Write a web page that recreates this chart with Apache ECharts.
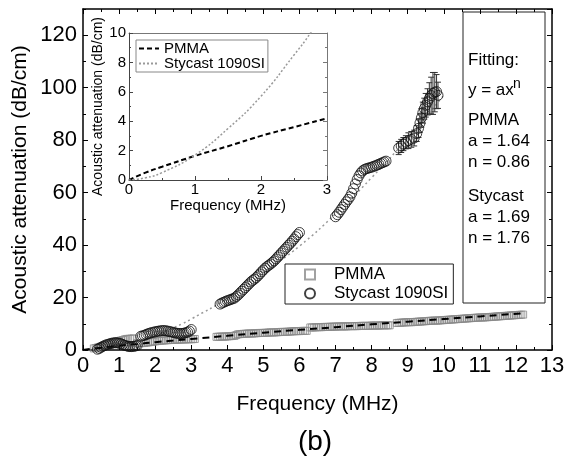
<!DOCTYPE html>
<html>
<head>
<meta charset="utf-8">
<script src="https://cdn.jsdelivr.net/npm/echarts@6/dist/echarts.min.js"></script>
<style>
html,body{margin:0;padding:0;background:#fff}
#main{width:573px;height:475px}
</style>
</head>
<body>
<div id="main"></div>
<script>
// Stycast 1090SI 实测点 [频率 MHz, 衰减 dB/cm], 按测量段分组
var stycastSeg1 = [[0.4,0.3],[0.45,0.6],[0.5,1.0],[0.55,1.4],[0.6,1.7],[0.65,2.0],[0.7,2.2],[0.75,2.4],
  [0.8,2.6],[0.85,2.7],[0.9,2.8],[0.95,2.7],[1.0,2.6],[1.05,2.4],[1.1,2.1],[1.15,1.8],[1.2,1.6],
  [1.25,1.4],[1.3,1.3],[1.35,1.3],[1.4,1.4],[1.45,1.5],[1.5,1.7]];
var stycastSeg2 = [[1.6,5.2],[1.65,5.4],[1.7,5.6],[1.75,5.9],[1.8,6.2],[1.85,6.4],[1.9,6.6],[1.95,6.8],
  [2.0,6.9],[2.05,7.1],[2.1,7.2],[2.15,7.3],[2.2,7.4],[2.25,7.4],[2.3,7.3],[2.35,7.2],[2.4,7.0],
  [2.45,6.9],[2.5,6.7],[2.55,6.5],[2.6,6.4],[2.65,6.3],[2.7,6.3],[2.75,6.3],[2.8,6.4],[2.85,6.6],
  [2.9,6.8],[2.95,7.2],[3.0,7.8]];
var stycastSeg3 = [[3.8,17.5],[3.85,17.9],[3.9,18.2],[3.95,18.5],[4.0,18.8],[4.05,19.0],[4.1,19.3],
  [4.15,19.5],[4.2,19.8],[4.25,20.4],[4.3,21.0],[4.35,21.7],[4.4,22.4],[4.45,23.1],[4.5,23.8],
  [4.55,24.5],[4.6,25.2],[4.65,25.9],[4.7,26.5],[4.75,27.0],[4.8,27.6],[4.85,28.3],[4.9,29.0],
  [4.95,29.8],[5.0,30.5],[5.05,31.2],[5.1,31.8],[5.15,32.3],[5.2,32.8],[5.25,33.4],[5.3,34.0],
  [5.35,34.7],[5.4,35.5],[5.45,36.2],[5.5,37.0],[5.55,37.7],[5.6,38.5],[5.65,39.2],[5.7,40.0],
  [5.75,40.7],[5.8,41.5],[5.85,42.3],[5.9,43.2],[5.95,44.0],[6.0,44.8]];
var stycastSeg4 = [[7.0,50.8],[7.05,51.6],[7.1,52.5],[7.15,53.5],[7.2,54.5],[7.25,55.5],[7.3,56.5],
  [7.35,57.4],[7.4,58.4],[7.45,59.8],[7.5,61.5],[7.55,63.3],[7.6,65.0],[7.65,66.4],[7.7,67.5],
  [7.75,68.3],[7.8,68.8],[7.85,69.1],[7.9,69.3],[7.95,69.5],[8.0,69.7],[8.05,70.0],[8.1,70.2],
  [8.15,70.5],[8.2,70.8],[8.25,71.1],[8.3,71.4],[8.35,71.7],[8.4,72.0]];
// 高频段, 带误差棒 [频率, 衰减, 误差]
var stycastSeg5 = [[8.75,77.0,2.5],[8.82,77.8,2.5],[8.88,78.5,2.5],[8.95,79.2,2.5],[9.02,79.8,3],
  [9.1,80.3,3],[9.18,80.8,3],[9.25,82.5,3],[9.3,84.5,3.5],[9.34,86.5,3.5],[9.38,88.5,3.5],
  [9.42,90.5,4],[9.46,92.0,4],[9.5,93.3,4.5],[9.55,94.6,5],[9.6,95.9,6],[9.65,97.0,7],
  [9.7,97.8,8],[9.75,98.3,7.5],[9.8,98.5,6.5],[9.84,97.1,5]];

// PMMA 实测点 [频率 MHz, 衰减 dB/cm]
var pmmaSeg1 = [[0.3,0.6],[0.35,0.75],[0.4,0.9],[0.45,1.1],[0.5,1.3],[0.55,1.45],[0.6,1.6],[0.65,1.8],
  [0.7,2.0],[0.75,2.2],[0.8,2.4],[0.85,2.65],[0.9,2.9],[0.95,3.15],[1.0,3.4],[1.05,3.6],[1.1,3.8],
  [1.15,4.0],[1.2,4.2],[1.25,4.25],[1.3,4.3],[1.35,4.35],[1.4,4.4]];
var pmmaSeg2 = [[1.5,2.6],[1.55,2.6],[1.6,2.6],[1.65,2.65],[1.7,2.7],[1.75,2.8],[1.8,2.9],[1.85,3.0],
  [1.9,3.1],[1.95,3.2],[2.0,3.3],[2.05,3.4],[2.1,3.5],[2.15,3.55],[2.2,3.6],[2.25,3.65],[2.3,3.7],
  [2.35,3.75],[2.4,3.8],[2.45,3.85],[2.5,3.9],[2.55,3.9],[2.6,3.9],[2.65,3.95],[2.7,4.0],[2.75,4.0],
  [2.8,4.0],[2.85,4.05],[2.9,4.1],[2.95,4.1],[3.0,4.1],[3.05,4.15],[3.1,4.2]];
var pmmaSeg3 = [[3.7,5.0],[3.75,5.05],[3.8,5.1],[3.85,5.1],[3.9,5.1],[3.95,5.15],[4.0,5.2],[4.05,5.25],
  [4.1,5.3],[4.15,5.35],[4.2,5.4],[4.25,5.7],[4.3,6.0],[4.35,6.05],[4.4,6.1],[4.45,6.15],[4.5,6.2],
  [4.55,6.25],[4.6,6.3],[4.65,6.3],[4.7,6.3],[4.75,6.35],[4.8,6.4],[4.85,6.45],[4.9,6.5],[4.95,6.5],
  [5.0,6.5],[5.05,6.55],[5.1,6.6],[5.15,6.65],[5.2,6.7],[5.25,6.7],[5.3,6.7],[5.35,6.75],[5.4,6.8],
  [5.45,6.85],[5.5,6.9],[5.55,6.9],[5.6,6.9],[5.65,6.95],[5.7,7.0],[5.75,7.05],[5.8,7.1],[5.85,7.15],
  [5.9,7.2],[5.95,7.2],[6.0,7.2],[6.05,7.25],[6.1,7.3],[6.15,7.3],[6.2,7.3]];
var pmmaSeg4 = [[6.3,8.6],[6.35,8.6],[6.4,8.6],[6.45,8.65],[6.5,8.7],[6.55,8.7],[6.6,8.7],[6.65,8.75],
  [6.7,8.8],[6.75,8.8],[6.8,8.8],[6.85,8.85],[6.9,8.9],[6.95,8.9],[7.0,8.9],[7.05,8.95],[7.1,9.0],
  [7.15,9.0],[7.2,9.0],[7.25,9.0],[7.3,9.0],[7.35,9.05],[7.4,9.1],[7.45,9.1],[7.5,9.1],[7.55,9.1],
  [7.6,9.1],[7.65,9.15],[7.7,9.2],[7.75,9.2],[7.8,9.2],[7.85,9.2],[7.9,9.2],[7.95,9.25],[8.0,9.3],
  [8.05,9.3],[8.1,9.3],[8.15,9.3],[8.2,9.3],[8.25,9.35],[8.3,9.4],[8.35,9.4],[8.4,9.4],[8.45,9.4],
  [8.5,9.4]];
var pmmaSeg5 = [[8.7,10.3],[8.75,10.35],[8.8,10.4],[8.85,10.45],[8.9,10.5],[8.95,10.55],[9.0,10.6],
  [9.05,10.6],[9.1,10.6],[9.15,10.65],[9.2,10.7],[9.25,10.75],[9.3,10.8],[9.35,10.85],[9.4,10.9],
  [9.45,10.95],[9.5,11.0],[9.55,11.05],[9.6,11.1],[9.65,11.15],[9.7,11.2],[9.75,11.2],[9.8,11.2],
  [9.85,11.25],[9.9,11.3],[9.95,11.35],[10.0,11.4],[10.05,11.45],[10.1,11.5],[10.15,11.55],
  [10.2,11.6],[10.25,11.65],[10.3,11.7],[10.35,11.75],[10.4,11.8],[10.45,11.85],[10.5,11.9],
  [10.55,11.95],[10.6,12.0],[10.65,12.05],[10.7,12.1],[10.75,12.15],[10.8,12.2],[10.85,12.25],
  [10.9,12.3],[10.95,12.35],[11.0,12.4],[11.05,12.4],[11.1,12.4],[11.15,12.45],[11.2,12.5],
  [11.25,12.55],[11.3,12.6],[11.35,12.65],[11.4,12.7],[11.45,12.75],[11.5,12.8],[11.55,12.85],
  [11.6,12.9],[11.65,12.95],[11.7,13.0],[11.75,13.05],[11.8,13.1],[11.85,13.15],[11.9,13.2],
  [11.95,13.25],[12.0,13.3],[12.05,13.35],[12.1,13.4],[12.15,13.45],[12.2,13.5]];

// 拟合曲线 y = a x^n (从图上读取的曲线点)
var pmmaFitF = [0,0.25,0.5,1,1.5,2,2.5,3,4,5,6,7,8,9,10,11,12.2];
var pmmaFitA = [0,0.5,0.9,1.64,2.3,3.0,3.6,4.2,5.4,6.6,7.7,8.7,9.8,10.8,11.8,12.8,14.0];
var stycastFitF = [0,0.25,0.5,1,1.5,2,2.5,2.75,3,4,5,6,7,8,9,10];
var stycastFitA = [0,0.15,0.5,1.7,3.5,5.7,8.5,10.0,11.8,19.7,29.5,39.6,51.9,65.7,80.8,97.1];

var FONT = 'Liberation Sans, Arial, sans-serif';

function zip(a, b) {
  var out = [];
  for (var i = 0; i < a.length; i++) out.push([a[i], b[i]]);
  return out;
}
function upTo(f, a, lim) {
  var out = [];
  for (var i = 0; i < f.length; i++) if (f[i] <= lim) out.push([f[i], a[i]]);
  return out;
}

var pmmaData = pmmaSeg1.concat(pmmaSeg2, pmmaSeg3, pmmaSeg4, pmmaSeg5);
var stycastData = stycastSeg1.concat(stycastSeg2, stycastSeg3, stycastSeg4,
  stycastSeg5.map(function (p) { return [p[0], p[1]]; }));

function tickAxis(o) {
  var base = {
    type: 'value',
    splitLine: {show: false},
    axisLine: {show: true, onZero: false, lineStyle: {color: '#000', width: 1.5}},
    axisTick: {show: true, inside: true, length: 5, lineStyle: {color: '#000', width: 1}},
    axisLabel: {show: false, color: '#000', fontFamily: FONT}
  };
  for (var k in o) base[k] = o[k];
  return base;
}

var option = {
  animation: false,
  backgroundColor: '#fff',
  grid: [
    {left: 83, top: 9, width: 469, height: 341},
    {left: 129, top: 33, width: 198, height: 147, show: true, backgroundColor: '#fff', borderWidth: 0}
  ],
  xAxis: [
    tickAxis({gridIndex: 0, min: 0, max: 13, interval: 1, position: 'bottom',
      minorTick: {show: true, splitNumber: 2, length: 3, lineStyle: {color: '#000'}},
      axisLabel: {show: true, fontSize: 22, color: '#000', fontFamily: FONT, margin: 5},
      name: 'Frequency (MHz)', nameLocation: 'middle', nameGap: 44,
      nameTextStyle: {fontSize: 21, color: '#000', fontFamily: FONT}}),
    tickAxis({gridIndex: 0, min: 0, max: 13, interval: 1, position: 'top',
      minorTick: {show: true, splitNumber: 2, length: 3, lineStyle: {color: '#000'}}}),
    tickAxis({gridIndex: 1, min: 0, max: 3, interval: 1, position: 'bottom',
      axisLine: {show: true, onZero: false, lineStyle: {color: '#444', width: 1}},
      axisTick: {show: true, inside: true, length: 4, lineStyle: {color: '#444'}},
      minorTick: {show: true, splitNumber: 2, length: 2, lineStyle: {color: '#444'}},
      axisLabel: {show: true, fontSize: 15, color: '#000', fontFamily: FONT, margin: 2},
      name: 'Frequency (MHz)', nameLocation: 'middle', nameGap: 15,
      nameTextStyle: {fontSize: 15, color: '#000', fontFamily: FONT}}),
    tickAxis({gridIndex: 1, min: 0, max: 3, interval: 1, position: 'top',
      axisLine: {show: true, onZero: false, lineStyle: {color: '#777', width: 1}},
      axisTick: {show: false}})
  ],
  yAxis: [
    tickAxis({gridIndex: 0, min: 0, max: 130, interval: 10, position: 'left',
      axisTick: {show: true, inside: true, length: 3, lineStyle: {color: '#000'}},
      name: 'Acoustic attenuation (dB/cm)', nameLocation: 'middle', nameGap: 52,
      nameTextStyle: {fontSize: 21, color: '#000', fontFamily: FONT}}),
    tickAxis({gridIndex: 0, min: 0, max: 130, interval: 20, position: 'left',
      axisLine: {show: false, onZero: false},
      axisLabel: {show: true, fontSize: 22, color: '#000', fontFamily: FONT, margin: 6, showMaxLabel: false}}),
    tickAxis({gridIndex: 0, min: 0, max: 130, interval: 10, position: 'right',
      axisTick: {show: true, inside: true, length: 3, lineStyle: {color: '#000'}}}),
    tickAxis({gridIndex: 0, min: 0, max: 130, interval: 20, position: 'right',
      axisLine: {show: false, onZero: false}}),
    tickAxis({gridIndex: 1, min: 0, max: 10, interval: 2, position: 'left',
      axisLine: {show: true, onZero: false, lineStyle: {color: '#444', width: 1}},
      axisTick: {show: true, inside: true, length: 4, lineStyle: {color: '#444'}},
      minorTick: {show: true, splitNumber: 2, length: 2, lineStyle: {color: '#444'}},
      axisLabel: {show: true, fontSize: 15, color: '#000', fontFamily: FONT, margin: 3},
      name: 'Acoustic attenuation (dB/cm)', nameLocation: 'middle', nameGap: 24,
      nameTextStyle: {fontSize: 14, color: '#000', fontFamily: FONT}}),
    tickAxis({gridIndex: 1, min: 0, max: 10, interval: 2, position: 'right',
      axisLine: {show: true, onZero: false, lineStyle: {color: '#777', width: 1}},
      axisTick: {show: true, inside: true, length: 4, lineStyle: {color: '#777'}},
      minorTick: {show: true, splitNumber: 2, length: 2, lineStyle: {color: '#777'}}})
  ],
  legend: [
    {
      data: [{name: 'PMMA', icon: 'rect'}, {name: 'Stycast 1090SI', icon: 'circle'}],
      orient: 'vertical', left: 285, top: 264,
      padding: [2, 5, 2, 19], itemGap: 2, itemWidth: 10, itemHeight: 10,
      borderColor: '#222', borderWidth: 1, selectedMode: false,
      textStyle: {fontSize: 17, color: '#000', fontFamily: FONT, padding: [0, 0, 0, 14]}
    },
    {
      data: ['PMMA fit', 'Stycast 1090SI fit'],
      formatter: function (n) { return n.replace(' fit', ''); },
      orient: 'vertical', left: 136, top: 40,
      padding: [1, 3, 1, 2], itemGap: 0, itemWidth: 20, itemHeight: 10,
      borderColor: '#888', borderWidth: 1, selectedMode: false,
      itemStyle: {opacity: 0, borderWidth: 0},
      textStyle: {fontSize: 15, color: '#000', fontFamily: FONT}
    }
  ],
  series: [
    {
      name: 'Stycast fit main', type: 'line', xAxisIndex: 0, yAxisIndex: 0,
      data: zip(stycastFitF, stycastFitA), smooth: true, symbol: 'none', silent: true,
      color: '#999', lineStyle: {color: '#999', width: 1.5, type: [2, 3]}, z: 1
    },
    {
      name: 'PMMA', type: 'scatter', xAxisIndex: 0, yAxisIndex: 0,
      data: pmmaData, symbol: 'rect', symbolSize: 7, silent: true,
      itemStyle: {color: 'rgba(255,255,255,0)', borderColor: '#8a8a8a', borderWidth: 1}, z: 2
    },
    {
      name: 'PMMA fit main', type: 'line', xAxisIndex: 0, yAxisIndex: 0,
      data: zip(pmmaFitF, pmmaFitA), smooth: true, symbol: 'none', silent: true,
      color: '#000', lineStyle: {color: '#000', width: 2, type: [7, 5]}, z: 3
    },
    {
      name: 'Stycast 1090SI', type: 'scatter', xAxisIndex: 0, yAxisIndex: 0,
      data: stycastData, symbol: 'circle', symbolSize: 10, silent: true,
      itemStyle: {color: 'rgba(255,255,255,0)', borderColor: '#111', borderWidth: 1}, z: 4
    },
    {
      name: 'err', type: 'custom', xAxisIndex: 0, yAxisIndex: 0, data: stycastSeg5, silent: true, z: 4,
      renderItem: function (params, api) {
        var x = api.value(0), y = api.value(1), e = api.value(2);
        var t = api.coord([x, y + e]), b = api.coord([x, y - e]);
        var st = {stroke: '#333', lineWidth: 1};
        return {type: 'group', children: [
          {type: 'line', shape: {x1: t[0], y1: t[1], x2: b[0], y2: b[1]}, style: st},
          {type: 'line', shape: {x1: t[0] - 3, y1: t[1], x2: t[0] + 3, y2: t[1]}, style: st},
          {type: 'line', shape: {x1: b[0] - 3, y1: b[1], x2: b[0] + 3, y2: b[1]}, style: st}
        ]};
      }
    },
    {
      name: 'PMMA fit', type: 'line', xAxisIndex: 2, yAxisIndex: 4,
      data: upTo(pmmaFitF, pmmaFitA, 3), smooth: true, symbol: 'none', silent: true,
      color: '#000', lineStyle: {color: '#000', width: 2, type: [5, 3]}, z: 5
    },
    {
      name: 'Stycast 1090SI fit', type: 'line', xAxisIndex: 2, yAxisIndex: 4,
      data: upTo(stycastFitF, stycastFitA, 3), smooth: true, symbol: 'none', silent: true,
      color: '#999', lineStyle: {color: '#999', width: 1.5, type: [2, 2]}, z: 5
    }
  ],
  graphic: [
    {type: 'rect', shape: {x: 463, y: 12, width: 82, height: 291}, style: {fill: 'none', stroke: '#222', lineWidth: 1}},
    {type: 'text', x: 468, y: 60, style: {text: 'Fitting:', font: '17px ' + FONT, fill: '#000', verticalAlign: 'middle'}},
    {type: 'text', x: 468, y: 90, style: {text: 'y = ax', font: '17px ' + FONT, fill: '#000', verticalAlign: 'middle'}},
    {type: 'text', x: 513, y: 84, style: {text: 'n', font: '14px ' + FONT, fill: '#000', verticalAlign: 'middle'}},
    {type: 'text', x: 468, y: 120, style: {text: 'PMMA', font: '17px ' + FONT, fill: '#000', verticalAlign: 'middle'}},
    {type: 'text', x: 468, y: 141, style: {text: 'a = 1.64', font: '17px ' + FONT, fill: '#000', verticalAlign: 'middle'}},
    {type: 'text', x: 468, y: 162, style: {text: 'n = 0.86', font: '17px ' + FONT, fill: '#000', verticalAlign: 'middle'}},
    {type: 'text', x: 468, y: 196, style: {text: 'Stycast', font: '17px ' + FONT, fill: '#000', verticalAlign: 'middle'}},
    {type: 'text', x: 468, y: 217, style: {text: 'a = 1.69', font: '17px ' + FONT, fill: '#000', verticalAlign: 'middle'}},
    {type: 'text', x: 468, y: 238, style: {text: 'n = 1.76', font: '17px ' + FONT, fill: '#000', verticalAlign: 'middle'}},
    {type: 'text', x: 315, y: 442, style: {text: '(b)', font: '28px ' + FONT, fill: '#000', align: 'center', verticalAlign: 'middle'}}
  ]
};

var chart = echarts.init(document.getElementById('main'));
chart.setOption(option);
</script>
</body>
</html>
